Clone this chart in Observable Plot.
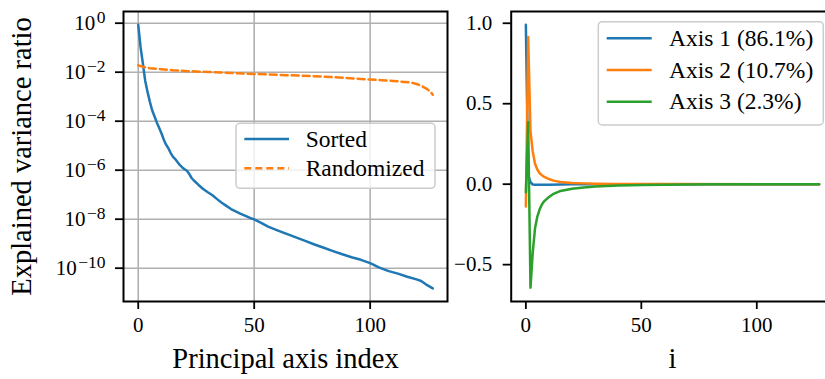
<!DOCTYPE html>
<html>
<head>
<meta charset="utf-8">
<script src="https://cdn.jsdelivr.net/npm/d3@7"></script>
<script src="https://cdn.jsdelivr.net/npm/@observablehq/plot@0.6"></script>
<style>
html, body { margin: 0; padding: 0; background: #ffffff; }
#wrap { position: relative; width: 825px; height: 379px; overflow: hidden; background: #ffffff; }
#wrap > svg { position: absolute; top: 0; }
</style>
</head>
<body>
<div id="wrap"></div>
<script>
// ---------- data ----------
const sortedIdx = [0,1,2,3,4,5,6,7,8,9,10,11,12,13,14,15,16,17,18,19,20,21,22,23,24,26,28,30,32,34,36,38,40,42,44,46,48,50,53,56,60,64,68,72,76,80,84,88,92,96,100,104,108,112,116,120,122,124,127];
const sortedVal = [0.861,0.107,0.023,4.5e-3,1.6e-3,6.3e-4,2.8e-4,1.6e-4,8.9e-5,5.4e-5,3.2e-5,1.8e-5,1.1e-5,7.9e-6,5.0e-6,3.5e-6,2.8e-6,2.1e-6,1.6e-6,1.3e-6,1.1e-6,9.5e-7,7.0e-7,4.8e-7,3.8e-7,2.5e-7,1.7e-7,1.26e-7,9.5e-8,6.6e-8,4.7e-8,3.5e-8,2.6e-8,2.1e-8,1.7e-8,1.4e-8,1.15e-8,9.8e-9,7.1e-9,5.0e-9,3.5e-9,2.5e-9,1.8e-9,1.3e-9,9.3e-10,6.8e-10,5.0e-10,3.7e-10,2.8e-10,2.2e-10,1.6e-10,1.05e-10,7.6e-11,6.0e-11,4.5e-11,3.5e-11,3.0e-11,2.2e-11,1.5e-11];

const randIdx = [0,2,5,10,15,20,30,40,50,60,70,80,90,100,105,110,115,118,120,122,124,126,127];
const randVal = [0.019,0.0166,0.0145,0.0132,0.012,0.0112,0.0102,0.0093,0.0085,0.0078,0.0072,0.0066,0.0058,0.005,0.0047,0.0044,0.004,0.0037,0.0033,0.0028,0.0022,0.0016,0.0012];

const axis1Idx = [0,1,2,3,4,6,10,15,20,30,50,80,127];
const axis1Val = [0.99,0.06,0.012,-0.002,-0.004,-0.004,-0.003,-0.002,-0.001,0,0,0,0];
const axis2Idx = [0,1,2,3,4,5,6,7,8,10,12,15,20,25,30,40,60,127];
const axis2Val = [-0.139,0.915,0.33,0.2,0.125,0.09,0.068,0.055,0.045,0.032,0.022,0.014,0.008,0.005,0.003,0.0015,0.0005,0];
const axis3Idx = [0,1,2,3,4,5,6,7,8,10,12,15,20,25,30,40,50,60,80,100,127];
const axis3Val = [-0.05,0.385,-0.643,-0.42,-0.27,-0.2,-0.155,-0.125,-0.105,-0.08,-0.06,-0.042,-0.028,-0.02,-0.014,-0.008,-0.005,-0.003,-0.001,0,0];

const xTicks = [0, 50, 100];
const logTicks = [1, 1e-2, 1e-4, 1e-6, 1e-8, 1e-10];
const logTickExps = ["0", "\u22122", "\u22124", "\u22126", "\u22128", "\u221210"];
const linTicks = [-0.5, 0, 0.5, 1.0];
const linTickLabels = ["\u22120.5", "0.0", "0.5", "1.0"];

const leftLegend = ["Sorted", "Randomized"];
const rightLegend = ["Axis 1 (86.1%)", "Axis 2 (10.7%)", "Axis 3 (2.3%)"];
const xLabelLeft = "Principal axis index";
const yLabelLeft = "Explained variance ratio";
const xLabelRight = "i";

// ---------- styles ----------
const C = {blue: "#1f77b4", orange: "#ff7f0e", green: "#2ca02c", grid: "#b0b0b0"};
const FONT = "'Liberation Serif', serif";
const LW = 2.5;

const toRows = (xs, ys) => xs.map((x, i) => ({x, y: ys[i]}));

const svgStyle = {fontFamily: FONT, fontSize: "21px", background: "transparent", maxWidth: "none", overflow: "visible", color: "black"};

// ---------- left panel ----------
const left = Plot.plot({
  width: 450, height: 379,
  marginLeft: 123, marginRight: 3, marginTop: 11, marginBottom: 78,
  style: svgStyle,
  x: {domain: [-6.35, 133.35], label: null},
  y: {type: "log", domain: [4.37e-12, 3.0], label: null},
  marks: [
    Plot.gridX(xTicks, {stroke: C.grid, strokeOpacity: 1, strokeWidth: 1.6}),
    Plot.gridY(logTicks, {stroke: C.grid, strokeOpacity: 1, strokeWidth: 1.6}),
    Plot.line(toRows(sortedIdx, sortedVal), {x: "x", y: "y", stroke: C.blue, strokeWidth: LW}),
    Plot.line(toRows(randIdx, randVal), {x: "x", y: "y", stroke: C.orange, strokeWidth: LW, strokeDasharray: "7,4"}),
    Plot.frame({stroke: "black", strokeWidth: 2}),
    Plot.axisX(xTicks, {tickSize: 8, tickPadding: 8, strokeWidth: 1.8, tickFormat: d => String(d), label: null}),
    Plot.axisY(logTicks, {tickSize: 8, tickPadding: 10, strokeWidth: 1.8, label: null,
      tickFormat: d => "10^" + logTickExps[logTicks.indexOf(d)]}),
    Plot.text([xLabelLeft], {frameAnchor: "bottom", dy: 57, fontSize: 28.5, lineAnchor: "middle", textAnchor: "middle", text: d => d}),
    Plot.text([yLabelLeft], {frameAnchor: "left", dx: -102, rotate: -90, fontSize: 28.5, lineAnchor: "middle", textAnchor: "middle", text: d => d})
  ]
});
left.style.left = "0px";

// superscripts for the log tick labels
d3.select(left).selectAll('g[aria-label="y-axis tick label"] text').each(function () {
  const parts = this.textContent.split("^");
  const s = d3.select(this);
  s.text(null);
  s.append("tspan").text(parts[0]);
  s.append("tspan").attr("dx", "1.5").attr("dy", "-0.42em").attr("font-size", "17.5px").text(parts[1]);
});

// ---------- right panel ----------
const right = Plot.plot({
  width: 400, height: 379,
  marginLeft: 70.7, marginRight: 6.7, marginTop: 11, marginBottom: 78,
  style: svgStyle,
  x: {domain: [-6.35, 133.35], label: null},
  y: {domain: [-0.729, 1.073], label: null},
  marks: [
    Plot.line(toRows(axis1Idx, axis1Val), {x: "x", y: "y", stroke: C.blue, strokeWidth: LW}),
    Plot.line(toRows(axis2Idx, axis2Val), {x: "x", y: "y", stroke: C.orange, strokeWidth: LW}),
    Plot.line(toRows(axis3Idx, axis3Val), {x: "x", y: "y", stroke: C.green, strokeWidth: LW}),
    Plot.frame({stroke: "black", strokeWidth: 2}),
    Plot.axisX(xTicks, {tickSize: 8, tickPadding: 8, strokeWidth: 1.8, tickFormat: d => String(d), label: null}),
    Plot.axisY(linTicks, {tickSize: 8, tickPadding: 11, strokeWidth: 1.8, label: null,
      tickFormat: d => linTickLabels[linTicks.indexOf(d)]}),
    Plot.text([xLabelRight], {frameAnchor: "bottom", dy: 57, fontSize: 28.5, lineAnchor: "middle", textAnchor: "middle", text: d => d})
  ]
});
right.style.left = "440px";

const wrap = document.getElementById("wrap");
wrap.appendChild(left);
wrap.appendChild(right);

// ---------- legends (overlay) ----------
const ov = d3.select(wrap).append("svg")
  .attr("width", 825).attr("height", 379)
  .style("position", "absolute").style("left", "0px").style("top", "0px")
  .style("font-family", FONT);

function legend(box, items) {
  ov.append("rect").attr("x", box.x).attr("y", box.y).attr("width", box.w).attr("height", box.h)
    .attr("rx", 4).attr("fill", "white").attr("fill-opacity", 0.8)
    .attr("stroke", "#cccccc").attr("stroke-width", 1.5);
  items.forEach((it, i) => {
    const y = box.row0 + i * box.step;
    ov.append("line").attr("x1", box.lx1).attr("x2", box.lx2).attr("y1", y).attr("y2", y)
      .attr("stroke", it.color).attr("stroke-width", LW)
      .attr("stroke-dasharray", it.dash || null);
    ov.append("text").attr("x", box.tx).attr("y", y + 7.5).attr("font-size", "23.5px")
      .attr("fill", "black").text(it.label);
  });
}

legend({x: 236, y: 123.3, w: 199, h: 65, row0: 139, step: 29.3, lx1: 244.3, lx2: 289, tx: 305.7},
  [{label: leftLegend[0], color: C.blue}, {label: leftLegend[1], color: C.orange, dash: "7,4"}]);
legend({x: 598.3, y: 21.7, w: 225, h: 103.3, row0: 38.3, step: 31.7, lx1: 606.7, lx2: 651.7, tx: 669},
  [{label: rightLegend[0], color: C.blue}, {label: rightLegend[1], color: C.orange}, {label: rightLegend[2], color: C.green}]);
</script>
</body>
</html>
